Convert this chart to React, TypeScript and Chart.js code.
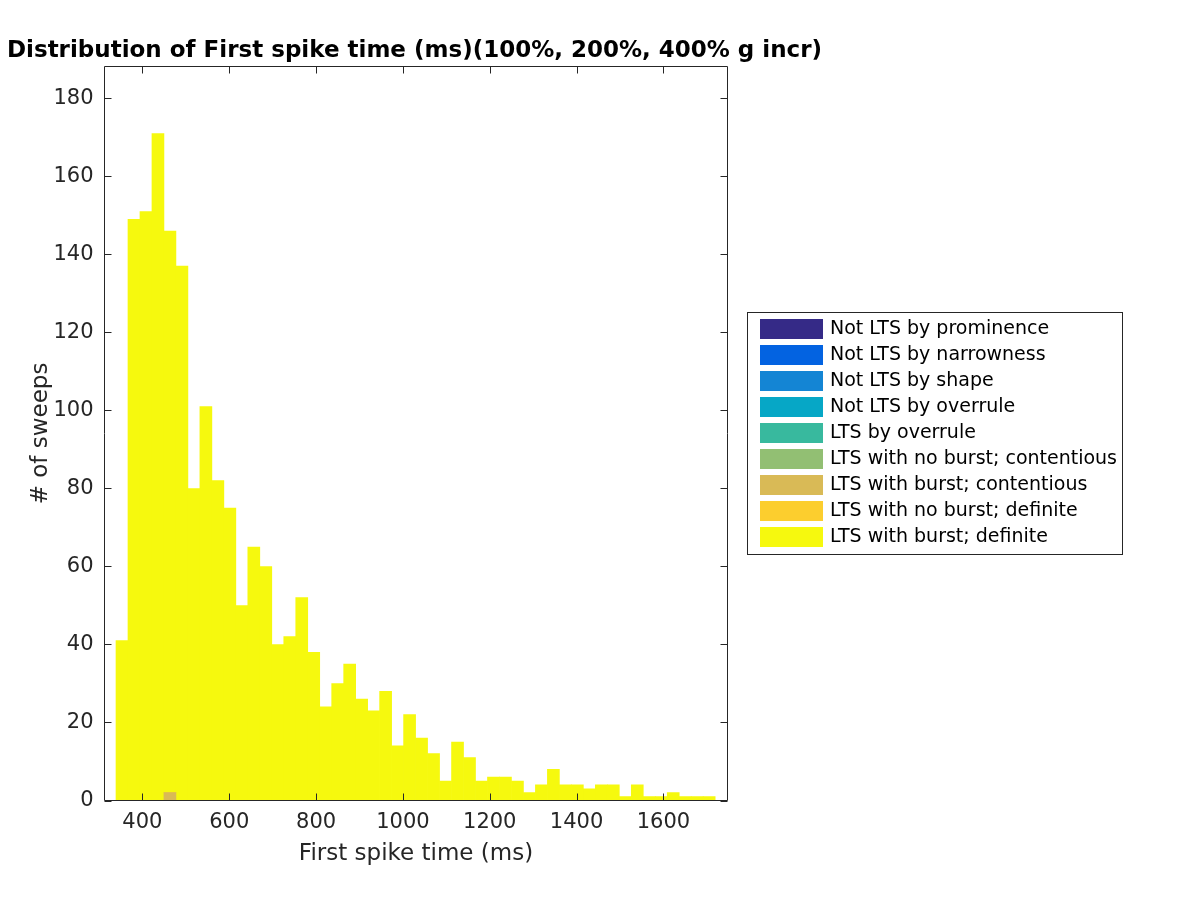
import React, { useEffect, useRef } from "react";
import { Chart, registerables } from "chart.js";

Chart.register(...registerables);

const titleText = "Distribution of First spike time (ms)(100%, 200%, 400% g incr)";
const xLabel = "First spike time (ms)";
const yLabel = "# of sweeps";

const xTickValues = [400, 600, 800, 1000, 1200, 1400, 1600];
const yTickValues = [0, 20, 40, 60, 80, 100, 120, 140, 160, 180];

const xMin = 312.7;
const xMax = 1747.6;
const yMin = 0;
const yMax = 188.2;

// histogram bins
const binStart = 339.2;
const binWidth = 27.6;
const binCount = 50;
const binCenters = Array.from({ length: binCount }, (_, i) => binStart + binWidth * (i + 0.5));

const categories = [
  "Not LTS by prominence",
  "Not LTS by narrowness",
  "Not LTS by shape",
  "Not LTS by overrule",
  "LTS by overrule",
  "LTS with no burst; contentious",
  "LTS with burst; contentious",
  "LTS with no burst; definite",
  "LTS with burst; definite",
];

const colors = [
  "rgb(53,42,135)",
  "rgb(3,99,225)",
  "rgb(20,133,212)",
  "rgb(6,167,198)",
  "rgb(56,185,158)",
  "rgb(146,191,115)",
  "rgb(217,186,86)",
  "rgb(252,206,46)",
  "rgb(246,249,14)",
];

const zeros50 = new Array(binCount).fill(0);
const notLtsProminence = zeros50.slice();
const notLtsNarrowness = zeros50.slice();
const notLtsShape = zeros50.slice();
const notLtsOverrule = zeros50.slice();
const ltsOverrule = zeros50.slice();
const ltsNoBurstContentious = zeros50.slice();
const ltsBurstContentious = [
  0, 0, 0, 0, 2, 0, 0, 0, 0, 0,
  0, 0, 0, 0, 0, 0, 0, 0, 0, 0,
  0, 0, 0, 0, 0, 0, 0, 0, 0, 0,
  0, 0, 0, 0, 0, 0, 0, 0, 0, 0,
  0, 0, 0, 0, 0, 0, 0, 0, 0, 0,
];
const ltsNoBurstDefinite = zeros50.slice();
const ltsBurstDefinite = [
  41, 149, 151, 171, 144, 137, 80, 101, 82, 75,
  50, 65, 60, 40, 42, 52, 38, 24, 30, 35,
  26, 23, 28, 14, 22, 16, 12, 5, 15, 11,
  5, 6, 6, 5, 2, 4, 8, 4, 4, 3,
  4, 4, 1, 4, 1, 1, 2, 1, 1, 1,
];

const seriesValues = [
  notLtsProminence,
  notLtsNarrowness,
  notLtsShape,
  notLtsOverrule,
  ltsOverrule,
  ltsNoBurstContentious,
  ltsBurstContentious,
  ltsNoBurstDefinite,
  ltsBurstDefinite,
];

const AXIS_COLOR = "#262626";
const FONT = "'DejaVu Sans', sans-serif";

const decorPlugin = {
  id: "matlabDecor",
  afterDraw(chart: any) {
    const ctx = chart.ctx as CanvasRenderingContext2D;
    const a = chart.chartArea;
    const xs = chart.scales.x;
    const ys = chart.scales.y;
    ctx.save();
    // box
    ctx.strokeStyle = AXIS_COLOR;
    ctx.lineWidth = 1;
    ctx.beginPath();
    ctx.rect(a.left, a.top, a.right - a.left, a.bottom - a.top);
    ctx.stroke();
    // ticks inward
    const tl = 7;
    ctx.beginPath();
    xTickValues.forEach((v) => {
      const px = Math.round(xs.getPixelForValue(v)) + 0.5;
      ctx.moveTo(px, a.bottom);
      ctx.lineTo(px, a.bottom - tl);
      ctx.moveTo(px, a.top);
      ctx.lineTo(px, a.top + tl);
    });
    yTickValues.forEach((v) => {
      const py = Math.round(ys.getPixelForValue(v)) + 0.5;
      ctx.moveTo(a.left, py);
      ctx.lineTo(a.left + tl, py);
      ctx.moveTo(a.right, py);
      ctx.lineTo(a.right - tl, py);
    });
    ctx.stroke();

    // title
    const cx = (a.left + a.right) / 2;
    ctx.fillStyle = "#000";
    ctx.font = `bold 23px ${FONT}`;
    ctx.textAlign = "center";
    ctx.textBaseline = "alphabetic";
    ctx.fillText(titleText, cx - 1.5, 56.5);

    // x label
    ctx.fillStyle = AXIS_COLOR;
    ctx.font = `23px ${FONT}`;
    ctx.fillText(xLabel, cx, 860);

    // y label
    ctx.save();
    ctx.translate(47, (a.top + a.bottom) / 2);
    ctx.rotate(-Math.PI / 2);
    ctx.textAlign = "center";
    ctx.textBaseline = "alphabetic";
    ctx.fillText(yLabel, 0, 0);
    ctx.restore();

    // legend
    const lx = 747.5, ly = 312.5, lw = 375, lh = 242;
    ctx.fillStyle = "#fff";
    ctx.fillRect(lx, ly, lw, lh);
    ctx.strokeStyle = AXIS_COLOR;
    ctx.strokeRect(lx, ly, lw, lh);
    ctx.font = `19px ${FONT}`;
    ctx.textAlign = "left";
    ctx.textBaseline = "middle";
    categories.forEach((name, i) => {
      const top = 319 + i * 26;
      ctx.fillStyle = colors[i];
      ctx.fillRect(760, top, 63, 20);
      ctx.fillStyle = "#000";
      ctx.fillText(name, 830, top + 10.5);
    });
    ctx.restore();
  },
};

export default function App() {
  const canvasRef = useRef<HTMLCanvasElement | null>(null);

  useEffect(() => {
    const canvas = canvasRef.current;
    if (!canvas) return;
    const datasets = categories.map((name, i) => ({
      label: name,
      data: seriesValues[i].map((v, j) => ({ x: binCenters[j], y: v })),
      backgroundColor: colors[i],
      borderWidth: 0,
      barPercentage: 1,
      categoryPercentage: 1,
    }));
    const chart = new Chart(canvas, {
      type: "bar",
      data: { datasets } as any,
      plugins: [decorPlugin],
      options: {
        responsive: false,
        animation: false,
        devicePixelRatio: 1,
        layout: { padding: { top: 66.5, right: 472.5, left: 0, bottom: 0 } },
        plugins: {
          legend: { display: false },
          title: { display: false },
          tooltip: { enabled: false },
        },
        scales: {
          x: {
            type: "linear",
            min: xMin,
            max: xMax,
            offset: false,
            stacked: true,
            grid: { display: false, drawTicks: false },
            border: { display: false },
            afterFit: (s: any) => {
              s.height = 99.5;
            },
            afterBuildTicks: (s: any) => {
              s.ticks = xTickValues.map((v) => ({ value: v }));
            },
            ticks: {
              autoSkip: false,
              maxRotation: 0,
              padding: 9,
              color: AXIS_COLOR,
              font: { family: FONT, size: 21 },
              callback: (v: any) => String(v),
            },
          },
          y: {
            type: "linear",
            min: yMin,
            max: yMax,
            stacked: true,
            grid: { display: false, drawTicks: false },
            border: { display: false },
            afterFit: (s: any) => {
              s.width = 104.5;
            },
            afterBuildTicks: (s: any) => {
              s.ticks = yTickValues.map((v) => ({ value: v }));
            },
            ticks: {
              autoSkip: false,
              padding: 11,
              color: AXIS_COLOR,
              font: { family: FONT, size: 21 },
              callback: (v: any) => String(v),
            },
          },
        },
      } as any,
    });
    return () => chart.destroy();
  }, []);

  return (
    <div style={{ position: "fixed", left: 0, top: 0, width: 1200, height: 900, background: "#fff" }}>
      <canvas ref={canvasRef} width={1200} height={900} style={{ width: 1200, height: 900, display: "block" }} />
    </div>
  );
}
